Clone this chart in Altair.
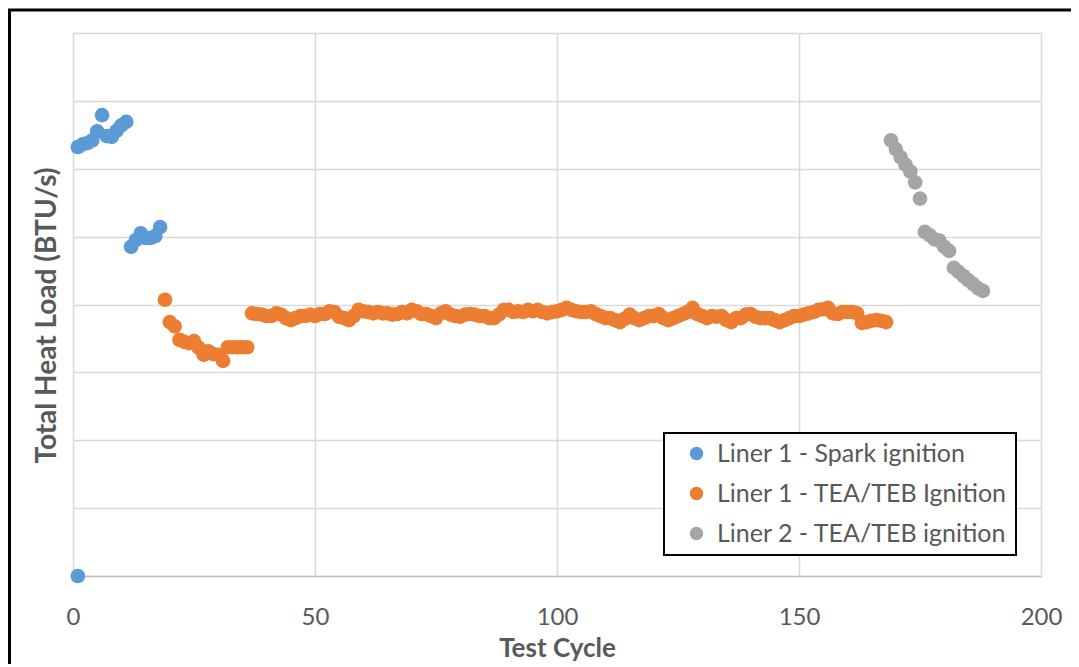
import altair as alt
import pandas as pd

# Liner 1 - Spark ignition
blue_x = [1, 1, 2, 3, 4, 5, 6, 7, 8, 9, 10, 11, 12, 13, 14, 15, 16, 17, 18]
blue_y = [0.0, 6.32, 6.36, 6.38, 6.42, 6.55, 6.79, 6.48, 6.47, 6.56, 6.64, 6.69,
          4.85, 4.95, 5.05, 4.98, 4.98, 5.01, 5.14]

# Liner 1 - TEA/TEB Ignition (cycles 19..168)
orange_x = list(range(19, 169))
orange_y = [4.07, 3.74, 3.68, 3.48, 3.45, 3.43, 3.46, 3.36, 3.26, 3.31, 3.27, 3.26,
            3.17, 3.37, 3.37, 3.37, 3.37, 3.37,
            3.87, 3.86, 3.85, 3.83, 3.83, 3.87, 3.85, 3.80, 3.77, 3.80, 3.83, 3.83,
            3.85, 3.83, 3.86, 3.86, 3.90, 3.89, 3.82, 3.80, 3.77, 3.83, 3.92, 3.90,
            3.89, 3.87, 3.89, 3.87, 3.87, 3.85, 3.86, 3.89, 3.87, 3.92, 3.90, 3.86,
            3.86, 3.83, 3.80, 3.87, 3.90, 3.85, 3.83, 3.82, 3.85, 3.86, 3.85, 3.83,
            3.83, 3.80, 3.80, 3.85, 3.92, 3.92, 3.89, 3.90, 3.89, 3.92, 3.90, 3.92,
            3.89, 3.87, 3.89, 3.90, 3.92, 3.95, 3.92, 3.90, 3.89, 3.89, 3.90, 3.86,
            3.83, 3.80, 3.80, 3.77, 3.74, 3.79, 3.85, 3.80, 3.77, 3.80, 3.83, 3.83,
            3.86, 3.80, 3.77, 3.80, 3.83, 3.86, 3.89, 3.95, 3.86, 3.83, 3.80, 3.83,
            3.82, 3.83, 3.77, 3.74, 3.80, 3.80, 3.85, 3.86, 3.82, 3.80, 3.80, 3.80,
            3.77, 3.74, 3.77, 3.80, 3.83, 3.83, 3.85, 3.87, 3.89, 3.92, 3.93, 3.95,
            3.87, 3.86, 3.89, 3.89, 3.89, 3.87, 3.73, 3.74, 3.76, 3.77, 3.76, 3.74]

# Liner 2 - TEA/TEB ignition
grey_x = list(range(169, 189))
grey_y = [6.42, 6.29, 6.17, 6.06, 5.96, 5.80, 5.56, 5.07, 5.02, 4.96, 4.94, 4.85,
          4.79, 4.54, 4.48, 4.42, 4.36, 4.30, 4.24, 4.20]

series_names = ["Liner 1 - Spark ignition", "Liner 1 - TEA/TEB Ignition",
                "Liner 2 - TEA/TEB ignition"]
series_colors = ["#5B9BD5", "#ED7D31", "#A5A5A5"]
x_ticks = [0, 50, 100, 150, 200]
y_grid = [0, 1, 2, 3, 4, 5, 6, 7, 8]

rows = []
for name, xs, ys in zip(series_names, [blue_x, orange_x, grey_x], [blue_y, orange_y, grey_y]):
    for xv, yv in zip(xs, ys):
        rows.append({"cycle": xv, "load": yv, "series": name})
df = pd.DataFrame(rows)

FONT = "Lato"
TXT = "#595959"
W, H = 968, 543
PAD = {"left": 65, "top": 25, "right": 30, "bottom": 88}

points = alt.Chart(df).mark_circle(size=215, opacity=1).encode(
    x=alt.X("cycle:Q", scale=alt.Scale(domain=[0, 200], nice=False),
            axis=alt.Axis(values=x_ticks, title="Test Cycle", grid=True,
                          gridColor="#D9D9D9", gridWidth=1.5,
                          domainColor="#BFBFBF", domainWidth=1.5,
                          ticks=False, tickSize=0, labelPadding=29,
                          labelFlush=False, labelBound=False,
                          labelFontSize=24, labelColor=TXT, labelFont=FONT,
                          titleFontSize=26, titleFont=FONT, titleColor=TXT,
                          titleFontWeight="bold", titlePadding=6)),
    y=alt.Y("load:Q", scale=alt.Scale(domain=[0, 8], nice=False),
            axis=alt.Axis(values=y_grid, title="Total Heat Load (BTU/s)", grid=True,
                          gridColor="#D9D9D9", gridWidth=1.5, domain=False,
                          ticks=False, labels=False,
                          titleFontSize=28, titleFont=FONT, titleColor=TXT,
                          titleFontWeight="bold", titlePadding=12, titleY=282)),
    color=alt.Color("series:N", title=None,
                    scale=alt.Scale(domain=series_names, range=series_colors),
                    legend=alt.Legend(orient="none", legendX=591, legendY=400,
                                      fillColor="white", strokeColor="black",
                                      padding=8, symbolType="circle",
                                      symbolSize=180, symbolOffset=12,
                                      labelFontSize=25,
                                      labelFont=FONT, labelColor=TXT,
                                      rowPadding=14, labelOffset=8,
                                      labelLimit=400)),
)

# outer chart frame: top and left edges
frame_top = alt.Chart(alt.Data(values=[{}])).mark_rule(
    stroke="black", strokeWidth=3
).encode(x=alt.value(-PAD["left"]), x2=alt.value(W + PAD["right"]), y=alt.value(-23))

frame_left = alt.Chart(alt.Data(values=[{}])).mark_rect(
    fill="black"
).encode(x=alt.value(-65), x2=alt.value(-62), y=alt.value(-24), y2=alt.value(H + PAD["bottom"]))

chart = alt.layer(points, frame_top, frame_left).properties(
    width=W, height=H,
    autosize=alt.AutoSizeParams(type="none"),
    padding=PAD,
).configure_view(strokeWidth=0).configure_legend(strokeWidth=2)

chart.save("out.html", embed_options={"renderer": "svg", "actions": False})
